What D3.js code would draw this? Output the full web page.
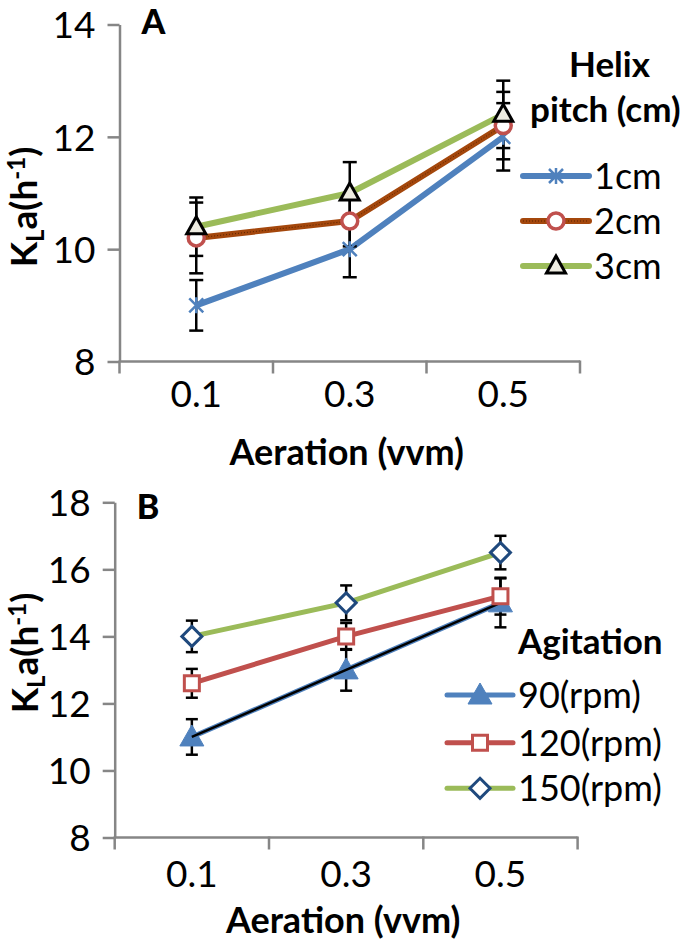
<!DOCTYPE html>
<html>
<head>
<meta charset="utf-8">
<script src="https://cdn.jsdelivr.net/npm/d3@7"></script>
<style>
  html, body { margin: 0; padding: 0; background: #fff; }
  svg { display: block; font-family: Lato, "Liberation Sans", sans-serif; }
</style>
</head>
<body>
<svg id="chart" width="685" height="940"></svg>
<script>
// ---------- Data ----------
const aeration = ["0.1", "0.3", "0.5"];

// Panel A: helix pitch
const pitchLabels = ["1cm", "2cm", "3cm"];
const kla1cm = [9.0, 10.0, 12.0];
const err1cm = [0.45, 0.5, 0.6];
const kla2cm = [10.2, 10.5, 12.2];
const err2cm = [0.63, 0.45, 0.6];
const kla3cm = [10.4, 11.0, 12.4];
const err3cm = [0.52, 0.55, 0.6];
const yTicksA = [8, 10, 12, 14];

// Panel B: agitation
const agitationLabels = ["90(rpm)", "120(rpm)", "150(rpm)"];
const kla90 = [11.0, 13.0, 15.0];
const err90 = [0.53, 0.62, 0.73];
const kla120 = [12.6, 14.0, 15.2];
const err120 = [0.43, 0.4, 0.55];
const kla150 = [14.0, 15.0, 16.5];
const err150 = [0.47, 0.52, 0.5];
const trend90Cats = ["0.1", "0.5"];
const trend90 = [11.0, 15.0];
const yTicksB = [8, 10, 12, 14, 16, 18];

// ---------- Helpers ----------
const svg = d3.select("#chart");
const AXIS = "#868686";
const FONT = "Lato, 'Liberation Sans', sans-serif";

function markerPath(type) {
  switch (type) {
    case "star": return "M-7,-7L7,7M-7,7L7,-7M0,-8L0,8";
    case "circle": return d3.symbol(d3.symbolCircle, 201)();
    case "triangle": return "M0,-10L9.5,7L-9.5,7Z";
    case "triangleBig": return "M0,-12L12,9L-12,9Z";
    case "square": return "M-7.5,-7.5H7.5V7.5H-7.5Z";
    case "diamond": return "M0,-10L10,0L0,10L-10,0Z";
  }
}

function drawMarker(g, m, x, y) {
  g.append("path")
    .attr("d", markerPath(m.type))
    .attr("transform", `translate(${x},${y})`)
    .attr("fill", m.fill)
    .attr("stroke", m.stroke)
    .attr("stroke-width", m.sw)
    .attr("stroke-linejoin", "miter");
}

function drawPanel(cfg) {
  const g = svg.append("g").attr("font-family", FONT);
  const x = d3.scaleBand().domain(aeration).range([cfg.x0, cfg.x1]);
  const y = d3.scaleLinear().domain([cfg.yMin, cfg.yMax]).range([cfg.yBottom, cfg.yTop]);
  const cx = c => x(c) + x.bandwidth() / 2;

  // y axis
  const yAxis = d3.axisLeft(y).tickValues(cfg.yTicks).tickFormat(d3.format("d"))
    .tickSize(12).tickPadding(12).tickSizeOuter(0);
  const ya = g.append("g").attr("transform", `translate(${cfg.x0},0)`).call(yAxis)
    .attr("font-family", FONT).attr("font-size", 37);
  ya.select(".domain").attr("stroke", AXIS).attr("stroke-width", 2.5);
  ya.selectAll(".tick line").attr("stroke", AXIS).attr("stroke-width", 2.5);
  ya.selectAll(".tick text").attr("fill", "#000").attr("dy", "0.36em");

  // x axis (Excel style: ticks between categories)
  g.append("line")
    .attr("x1", cfg.x0).attr("x2", cfg.x1)
    .attr("y1", cfg.yBottom).attr("y2", cfg.yBottom)
    .attr("stroke", AXIS).attr("stroke-width", 2.5);
  const tickXs = aeration.map(c => x(c)).concat([cfg.x1]);
  g.selectAll(".xt").data(tickXs).enter().append("line")
    .attr("x1", d => d).attr("x2", d => d)
    .attr("y1", cfg.yBottom - 1).attr("y2", cfg.yBottom + 12)
    .attr("stroke", AXIS).attr("stroke-width", 2.5);
  g.selectAll(".xl").data(aeration).enter().append("text")
    .attr("x", d => cx(d)).attr("y", cfg.yBottom + cfg.xLabelOff)
    .attr("text-anchor", "middle")
    .attr("font-size", 37).text(d => d);

  // axis title
  g.append("text")
    .attr("x", (cfg.x0 + cfg.x1) / 2 - 3).attr("y", cfg.yBottom + cfg.xTitleOff)
    .attr("text-anchor", "middle").attr("font-weight", "bold").attr("font-size", 36)
    .text("Aeration (vvm)");

  // y title
  const yt = g.append("text")
    .attr("transform", `translate(${cfg.yTitleX},${cfg.yTitleY}) rotate(-90)`)
    .attr("text-anchor", "middle").attr("font-weight", "bold").attr("font-size", 37);
  yt.append("tspan").text("K");
  yt.append("tspan").attr("font-size", 24).attr("dy", 7).text("L");
  yt.append("tspan").attr("dy", -7).text("a(h");
  yt.append("tspan").attr("font-size", 24).attr("dy", -12).text("-1");
  yt.append("tspan").attr("dy", 12).text(")");

  // panel letter
  g.append("text").attr("x", cfg.x0 + 22).attr("y", cfg.letterY)
    .attr("font-weight", "900").attr("font-size", 34).text(cfg.letter);

  const line = d3.line().x(d => cx(d.c)).y(d => y(d.v));

  // lines
  cfg.series.forEach(s => {
    const pts = aeration.map((c, i) => ({ c, v: s.values[i] }));
    g.append("path").datum(pts).attr("d", line)
      .attr("fill", "none").attr("stroke", s.color).attr("stroke-width", s.lw)
      .attr("stroke-linejoin", "round");
    if (s.texture) {
      g.append("path").datum(pts).attr("d", line)
        .attr("fill", "none").attr("stroke", s.texture).attr("stroke-width", 1)
        .attr("stroke-dasharray", "1,2");
    }
  });

  // error bars
  cfg.series.forEach(s => {
    aeration.forEach((c, i) => {
      const v = s.values[i], e = s.errors[i];
      const xx = cx(c);
      const eg = g.append("g").attr("stroke", "#000").attr("stroke-width", 2.5);
      eg.append("line").attr("x1", xx).attr("x2", xx).attr("y1", y(v - e)).attr("y2", y(v + e));
      [v - e, v + e].forEach(t => {
        eg.append("line").attr("x1", xx - cfg.cap).attr("x2", xx + cfg.cap)
          .attr("y1", y(t)).attr("y2", y(t));
      });
    });
  });

  // markers
  cfg.series.forEach((s, si) => {
    aeration.forEach((c, i) => drawMarker(g, s.marker, cx(c), y(s.values[i])));
    if (cfg.trend && si === 0) {
      const tp = trend90Cats.map((c, i) => ({ c, v: trend90[i] }));
      g.append("path").datum(tp).attr("d", line)
        .attr("fill", "none").attr("stroke", "#000").attr("stroke-width", 2.5);
    }
  });

  // legend
  const lg = g.append("g");
  cfg.titleLines.forEach(t => {
    lg.append("text").attr("x", t.x).attr("y", t.y)
      .attr("font-weight", "bold").attr("font-size", 35).text(t.text);
  });
  cfg.series.forEach((s, i) => {
    const ly = cfg.legY[i];
    lg.append("line").attr("x1", cfg.legX0).attr("x2", cfg.legX1)
      .attr("y1", ly).attr("y2", ly)
      .attr("stroke", s.color).attr("stroke-width", s.lw).attr("stroke-linecap", "round");
    if (s.texture) {
      lg.append("line").attr("x1", cfg.legX0).attr("x2", cfg.legX1)
        .attr("y1", ly).attr("y2", ly)
        .attr("stroke", s.texture).attr("stroke-width", 1).attr("stroke-dasharray", "1,2");
    }
    drawMarker(lg, s.marker, (cfg.legX0 + cfg.legX1) / 2, ly);
    lg.append("text").attr("x", cfg.legX1 + 5).attr("y", ly).attr("dy", "0.36em")
      .attr("font-size", 36).text(s.label);
  });
}

// ---------- Panel A ----------
drawPanel({
  letter: "A", letterY: 34,
  x0: 119.5, x1: 580, yTop: 24.5, yBottom: 361.5, yMin: 8, yMax: 14, yTicks: yTicksA,
  xLabelOff: 45, xTitleOff: 103, yTitleX: 37, yTitleY: 207, cap: 7,
  series: [
    { label: pitchLabels[0], values: kla1cm, errors: err1cm, color: "#4f81bd", lw: 6,
      marker: { type: "star", fill: "none", stroke: "#4f81bd", sw: 2.5 } },
    { label: pitchLabels[1], values: kla2cm, errors: err2cm, color: "#a4470c", lw: 6, texture: "#5a2200",
      marker: { type: "circle", fill: "#fff", stroke: "#c0504d", sw: 3.5 } },
    { label: pitchLabels[2], values: kla3cm, errors: err3cm, color: "#9bbb59", lw: 6,
      marker: { type: "triangle", fill: "#eeece1", stroke: "#000", sw: 3 } }
  ],
  titleLines: [{ text: "Helix", x: 569, y: 77 }, { text: "pitch (cm)", x: 530, y: 122 }],
  legX0: 523, legX1: 589, legY: [176, 221, 266]
});

// ---------- Panel B ----------
drawPanel({
  letter: "B", letterY: 519, trend: true,
  x0: 114.7, x1: 577.6, yTop: 502.3, yBottom: 837.5, yMin: 8, yMax: 18, yTicks: yTicksB,
  xLabelOff: 49.5, xTitleOff: 95, yTitleX: 38, yTitleY: 653, cap: 6,
  series: [
    { label: agitationLabels[0], values: kla90, errors: err90, color: "#4f81bd", lw: 5,
      marker: { type: "triangleBig", fill: "#4f81bd", stroke: "#4f81bd", sw: 1 } },
    { label: agitationLabels[1], values: kla120, errors: err120, color: "#c0504d", lw: 5,
      marker: { type: "square", fill: "#fff", stroke: "#c0504d", sw: 3 } },
    { label: agitationLabels[2], values: kla150, errors: err150, color: "#9bbb59", lw: 5,
      marker: { type: "diamond", fill: "#fff", stroke: "#1f497d", sw: 3 } }
  ],
  titleLines: [{ text: "Agitation", x: 518, y: 654 }],
  legX0: 447, legX1: 513, legY: [695, 742.7, 788.3]
});
</script>
</body>
</html>
